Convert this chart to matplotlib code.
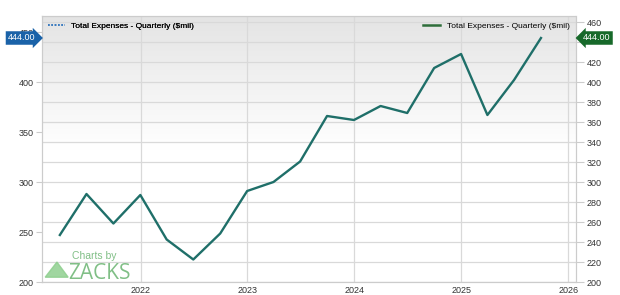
import numpy as np
import pandas as pd
import matplotlib
matplotlib.use('Agg')
from matplotlib import pyplot as plt
from matplotlib.lines import Line2D
import matplotlib.transforms as mtransforms

plt.rcParams['font.family'] = ['Liberation Sans', 'DejaVu Sans']

quarters = pd.date_range('2021-03-31', '2025-09-30', freq='QE')
expenses = [247, 288, 258.5, 287, 242.5, 222.5, 248.5, 291, 300, 320.5,
            366, 362, 376, 369, 414, 428, 367, 402, 444]
series_label = 'Total Expenses - Quarterly ($mil)'
last_label = '444.00'
left_ticks = [200, 250, 300, 350, 400, 450]
right_ticks = list(range(200, 461, 20))
right_labels = ['' if t == 440 else str(t) for t in right_ticks]  # hidden under the badge
year_ticks = pd.to_datetime(['2022-01-01', '2023-01-01', '2024-01-01', '2025-01-01', '2026-01-01'])
year_labels = ['2022', '2023', '2024', '2025', '2026']

line_color = '#1f6f69'
grid_color = '#d9d9d9'
text_color = '#333333'
mark_color = '#80bf86'

fig = plt.figure(figsize=(6.2, 2.95), dpi=100)
ax = fig.add_axes([42 / 620, 13 / 295, (575.5 - 42) / 620, (282 - 16) / 295])
ax2 = ax.twinx()

ylim = (200, 466)
xlim = (pd.Timestamp('2021-01-29'), pd.Timestamp('2026-01-26'))

# gray-to-white gradient background
grad = np.linspace(0, 1, 256).reshape(-1, 1)
cmap = matplotlib.colors.LinearSegmentedColormap.from_list('bg', ['#ffffff', '#ffffff', '#e4e4e4'])
ax.imshow(grad, extent=[0, 1, 0, 1], transform=ax.transAxes, origin='lower',
          cmap=cmap, aspect='auto', zorder=0)

for yv in right_ticks:
    ax.axhline(yv, color=grid_color, lw=0.9, zorder=1)
for xv in year_ticks:
    ax.axvline(xv, color=grid_color, lw=0.9, zorder=1)

ax2.plot(quarters, expenses, color=line_color, lw=1.7, zorder=3)

for a in (ax, ax2):
    a.set_xlim(xlim)
    a.set_ylim(ylim)
    for s in a.spines.values():
        s.set_color('#cccccc')
        s.set_linewidth(0.8)

ax.set_xticks(year_ticks)
ax.set_xticklabels(year_labels)
ax.set_yticks(left_ticks)
ax2.set_yticks(right_ticks)
ax2.set_yticklabels(right_labels)
ax.tick_params(axis='x', length=0, labelsize=6.5, colors=text_color, pad=3)
ax.tick_params(axis='y', length=4, color='#cccccc', labelsize=6.5, colors=text_color, pad=2)
ax2.tick_params(axis='y', length=6, color='#cccccc', labelsize=6.5, colors=text_color, pad=2)
ax.set_facecolor('white')

# legends
left_handle = Line2D([0], [0], color='#3a7bbf', lw=1.2, linestyle=(0, (1, 1)))
right_handle = Line2D([0], [0], color='#2e6e3a', lw=1.8)
leg1 = ax.legend([left_handle], [series_label], loc='upper left', frameon=False,
                 fontsize=6, handlelength=2, borderaxespad=0.3, handletextpad=0.8)
ax.add_artist(leg1)
ax2.legend([right_handle], [series_label], loc='upper right', frameon=False,
           fontsize=6, handlelength=2, borderaxespad=0.3, handletextpad=0.8)

# last value badges
trans_l = mtransforms.blended_transform_factory(fig.transFigure, ax.transData)
fig.text(8 / 620, expenses[-1], last_label, transform=trans_l, color='white', fontsize=6.5,
         va='center', ha='left',
         bbox=dict(boxstyle='rarrow,pad=0.25', fc='#1a62a8', ec='none'))
fig.text(583 / 620, expenses[-1], last_label, transform=trans_l, color='white', fontsize=6.5,
         va='center', ha='left',
         bbox=dict(boxstyle='larrow,pad=0.25', fc='#17692a', ec='none'))

# watermark
ax.text(0.056, 0.085, 'Charts by', transform=ax.transAxes, color=mark_color,
        fontsize=7.5, zorder=2)
ax.text(0.05, 0.012, 'ZACKS', transform=ax.transAxes, color=mark_color,
        fontsize=15, family=['Open Sans', 'DejaVu Sans'], zorder=2)
ax.fill([0.006, 0.028, 0.049], [0.018, 0.075, 0.018], transform=ax.transAxes,
        color='#8fcf8f', alpha=0.85, zorder=2)

fig.savefig('out.png', dpi=100)
